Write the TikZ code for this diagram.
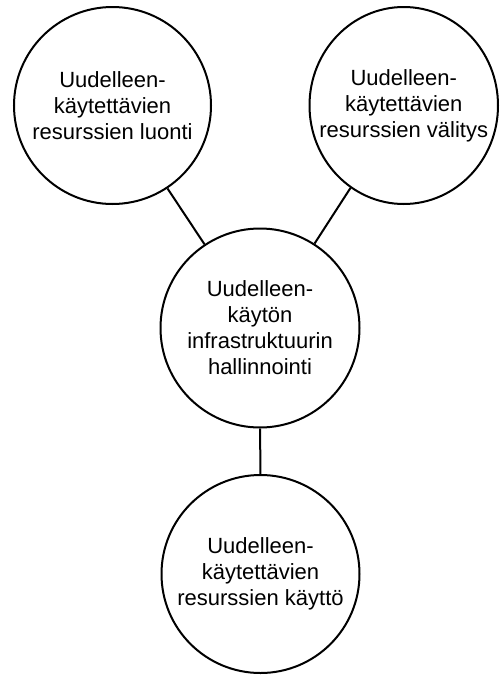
\documentclass[tikz,border=0pt]{standalone}
\usepackage{fontspec}
\setmainfont{Liberation Sans}
\usetikzlibrary{shapes.geometric}
\begin{document}
\begin{tikzpicture}[x=1pt,y=-1pt,
  bubble/.style={draw=black, line width=2pt, circle, inner sep=0pt, align=center,
    font=\fontsize{22}{26}\selectfont},
  label/.style={align=center, inner sep=0pt, font=\fontsize{22}{26}\selectfont},
  link/.style={draw=black, line width=2pt}]
\useasboundingbox (0,0) rectangle (502,675);
\node[bubble, minimum size=197pt] (luonti) at (112.5,105.5)
  {Uudelleen-\\käytettävien\\resurssien luonti};
\node[draw=black, line width=2pt, ellipse, inner sep=0pt, minimum width=188.5pt, minimum height=197pt] (valitys) at (403.75,105.5) {};
\node[label] (valitysteksti) at (valitys.center)
  {Uudelleen-\\käytettävien\\resurssien välitys};
\node[bubble, minimum size=199pt] (hallinta) at (260,328)
  {Uudelleen-\\käytön\\infrastruktuurin\\hallinnointi};
\node[bubble, minimum size=198pt] (kaytto) at (260.5,574)
  {Uudelleen-\\käytettävien\\resurssien käyttö};
\draw[link] (luonti) -- (hallinta);
\draw[link] (valitys) -- (hallinta);
\draw[link] (hallinta) -- (kaytto);
\end{tikzpicture}
\end{document}
